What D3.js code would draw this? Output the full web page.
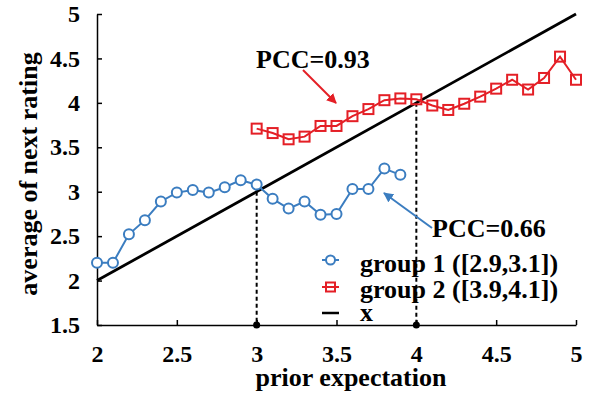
<!DOCTYPE html>
<html>
<head>
<meta charset="utf-8">
<script src="https://cdn.jsdelivr.net/npm/d3@7"></script>
<style>
  body { margin: 0; background: #fff; }
  text { font-family: "Liberation Serif", "Times New Roman", serif; font-weight: bold; }
</style>
</head>
<body>
<div id="chart"></div>
<script>
// chart data
var group1X = [2.0, 2.1, 2.2, 2.3, 2.4, 2.5, 2.6, 2.7, 2.8, 2.9, 3.0, 3.1, 3.2, 3.3, 3.4, 3.5, 3.6, 3.7, 3.8, 3.9];
var group1Y = [2.20, 2.20, 2.52, 2.68, 2.89, 2.99, 3.02, 2.99, 3.05, 3.13, 3.08, 2.92, 2.81, 2.89, 2.74, 2.75, 3.03, 3.03, 3.26, 3.19];
var group2X = [3.0, 3.1, 3.2, 3.3, 3.4, 3.5, 3.6, 3.7, 3.8, 3.9, 4.0, 4.1, 4.2, 4.3, 4.4, 4.5, 4.6, 4.7, 4.8, 4.9, 5.0];
var group2Y = [3.71, 3.66, 3.59, 3.62, 3.74, 3.74, 3.85, 3.93, 4.03, 4.05, 4.04, 3.97, 3.92, 3.99, 4.07, 4.16, 4.26, 4.15, 4.28, 4.52, 4.26];
var xTicks = [2, 2.5, 3, 3.5, 4, 4.5, 5];
var yTicks = [1.5, 2, 2.5, 3, 3.5, 4, 4.5, 5];
var legendLabels = ["group 1 ([2.9,3.1])", "group 2 ([3.9,4.1])", "x"];
var markLines = [3, 4];

var svgWidth = 595;
var svgHeight = 395;
var margin = { top: 14, right: 19, bottom: 70, left: 97 };
var width = svgWidth - margin.left - margin.right;
var height = svgHeight - margin.top - margin.bottom;

var blue = "#3b7dc0";
var red = "#e41f26";

var svg = d3.select("#chart")
    .append("svg")
    .attr("width", svgWidth)
    .attr("height", svgHeight);

var chartGroup = svg.append("g")
    .attr("transform", `translate(${margin.left}, ${margin.top})`);

var x = d3.scaleLinear().domain([2, 5]).range([0, width]);
var y = d3.scaleLinear().domain([1.5, 5]).range([height, 0]);

// axes, ticks pointing inward
var bottomAxis = d3.axisBottom(x).tickValues(xTicks).tickFormat(d3.format("")).tickSizeInner(-5).tickSizeOuter(0).tickPadding(20);
var leftAxis = d3.axisLeft(y).tickValues(yTicks).tickFormat(d3.format("")).tickSizeInner(-5).tickSizeOuter(0).tickPadding(17);

var xg = chartGroup.append("g")
    .attr("transform", `translate(0, ${height})`)
    .call(bottomAxis);
var yg = chartGroup.append("g").call(leftAxis);

[xg, yg].forEach(g => {
    g.selectAll("text").style("font-size", "24px").attr("fill", "#000");
    g.selectAll("path, line").attr("stroke", "#000").attr("stroke-width", 1.5);
});

// y = x line
var diag = [2, 5];
chartGroup.append("line")
    .attr("x1", x(diag[0])).attr("y1", y(diag[0]))
    .attr("x2", x(diag[1])).attr("y2", y(diag[1]))
    .attr("stroke", "#000")
    .attr("stroke-width", 2.8);

// dotted drop lines
markLines.forEach(v => {
    chartGroup.append("line")
        .attr("x1", x(v)).attr("x2", x(v))
        .attr("y1", y(v)).attr("y2", height)
        .attr("stroke", "#000")
        .attr("stroke-width", 2)
        .attr("stroke-dasharray", "4,3");
    chartGroup.append("circle")
        .attr("cx", x(v)).attr("cy", height)
        .attr("r", 3.5)
        .attr("fill", "#000");
});

var line = d3.line().x(d => x(d[0])).y(d => y(d[1]));
var g1 = group1X.map((v, i) => [v, group1Y[i]]);
var g2 = group2X.map((v, i) => [v, group2Y[i]]);

chartGroup.append("path")
    .datum(g1)
    .attr("d", line)
    .attr("fill", "none")
    .attr("stroke", blue)
    .attr("stroke-width", 2);

chartGroup.selectAll(".c1")
    .data(g1)
    .enter()
    .append("circle")
    .attr("cx", d => x(d[0]))
    .attr("cy", d => y(d[1]))
    .attr("r", 5)
    .attr("fill", "#fff")
    .attr("stroke", blue)
    .attr("stroke-width", 2);

chartGroup.append("path")
    .datum(g2)
    .attr("d", line)
    .attr("fill", "none")
    .attr("stroke", red)
    .attr("stroke-width", 2);

chartGroup.selectAll(".s2")
    .data(g2)
    .enter()
    .append("rect")
    .attr("x", d => x(d[0]) - 5)
    .attr("y", d => y(d[1]) - 5)
    .attr("width", 10)
    .attr("height", 10)
    .attr("fill", "none")
    .attr("stroke", red)
    .attr("stroke-width", 2);

// annotations with arrows
var defs = svg.append("defs");
[["arrRed", red], ["arrBlue", blue]].forEach(a => {
    defs.append("marker")
        .attr("id", a[0])
        .attr("viewBox", "0 0 10 10")
        .attr("refX", 9).attr("refY", 5)
        .attr("markerWidth", 5).attr("markerHeight", 5)
        .attr("orient", "auto")
        .append("path")
        .attr("d", "M0,0L10,5L0,10z")
        .attr("fill", a[1]);
});

svg.append("text").attr("x", 256).attr("y", 68).style("font-size", "26px").text("PCC=0.93");
svg.append("line")
    .attr("x1", 303).attr("y1", 70).attr("x2", 336).attr("y2", 103)
    .attr("stroke", red).attr("stroke-width", 2)
    .attr("marker-end", "url(#arrRed)");

svg.append("text").attr("x", 432).attr("y", 237).style("font-size", "26px").text("PCC=0.66");
svg.append("line")
    .attr("x1", 432).attr("y1", 228).attr("x2", 384).attr("y2", 193)
    .attr("stroke", blue).attr("stroke-width", 2)
    .attr("marker-end", "url(#arrBlue)");

// legend
var legendY = [260, 287, 313];
var legendBase = [272, 298, 321];
var legend = svg.append("g").attr("transform", "translate(322, 0)");
legendLabels.forEach((lab, i) => {
    var ly = legendY[i];
    var col = i === 0 ? blue : i === 1 ? red : "#000";
    legend.append("line")
        .attr("x1", 0).attr("x2", 17).attr("y1", ly).attr("y2", ly)
        .attr("stroke", col).attr("stroke-width", i === 2 ? 2.5 : 2);
    if (i === 0) {
        legend.append("circle").attr("cx", 8.5).attr("cy", ly).attr("r", 4.5)
            .attr("fill", "#fff").attr("stroke", col).attr("stroke-width", 2);
    } else if (i === 1) {
        legend.append("rect").attr("x", 4).attr("y", ly - 4.5).attr("width", 9).attr("height", 9)
            .attr("fill", "none").attr("stroke", col).attr("stroke-width", 2);
    }
    legend.append("text")
        .attr("x", 38).attr("y", legendBase[i])
        .style("font-size", "26px")
        .text(lab);
});

// axis titles
svg.append("text")
    .attr("x", 351).attr("y", 386)
    .attr("text-anchor", "middle")
    .style("font-size", "26px")
    .text("prior expectation");

svg.append("text")
    .attr("transform", "translate(37, 174) rotate(-90)")
    .attr("text-anchor", "middle")
    .style("font-size", "26px")
    .text("average of next rating");
</script>
</body>
</html>
